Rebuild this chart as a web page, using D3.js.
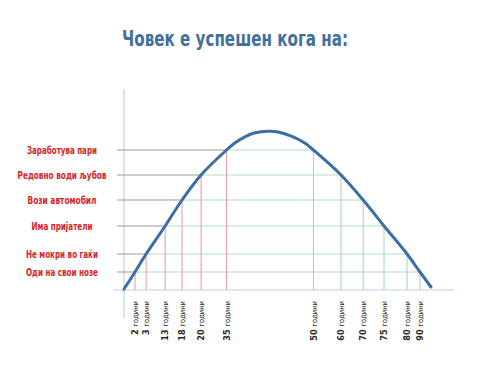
<!DOCTYPE html>
<html><head><meta charset="utf-8">
<script src="https://cdn.jsdelivr.net/npm/d3@7"></script>
<style>body{margin:0;background:#fff}svg{display:block}</style>
</head><body><svg id="c" width="480" height="365"></svg>
<script>
// ---- data ----
const title = "Човек е успешен кога на:";
// curve of "success" over the span of life (x: 0-100 relative span, y: 0-100)
const curveX = [0, 3.6, 7.2, 13.4, 18.9, 25.1, 33.4, 36.2, 39.4, 42.7, 46.9, 50.2, 54.7, 59.0, 61.7, 70.7, 77.9, 84.7, 92.2, 96.4, 100];
const curveY = [0.5, 9, 18, 32, 45, 57.5, 70, 73.6, 76.6, 78.6, 79.4, 79.0, 76.8, 73.4, 70, 57.5, 45, 32, 18, 9, 1.5];
// achievements (y levels)
const levelLabels = ["Заработува пари", "Редовно води љубов", "Вози автомобил", "Има пријатели", "Не мокри во гаќи", "Оди на свои нозе"];
const levelValues = [70, 57.5, 45, 32, 18, 9];
// ages where the curve crosses each level
const risingAges  = [35, 20, 18, 13, 3, 2];   // same order as levels
const fallingAges = [50, 60, 70, 75, 80, 90]; // same order as levels
const ageUnit = "години";

// ---- scales ----
const x = d3.scaleLinear().domain([0, 100]).range([124, 431]);
const y = d3.scaleLinear().domain([0, 100]).range([290, 90]);

const svg = d3.select("#c");
const curvePts = curveX.map((v, i) => [v, curveY[i]]);
const peak = d3.maxIndex(curveY);

function crossX(level, rising) {
  const pts = rising ? curvePts.slice(0, peak + 1) : curvePts.slice(peak);
  for (let i = 0; i < pts.length - 1; i++) {
    const [x0, y0] = pts[i], [x1, y1] = pts[i + 1];
    if ((y0 - level) * (y1 - level) <= 0 && y0 !== y1) {
      return x0 + (level - y0) / (y1 - y0) * (x1 - x0);
    }
  }
  return rising ? 0 : 100;
}

const narrow = "'Liberation Sans Narrow', 'DejaVu Sans Condensed', sans-serif";

// title
svg.append("text").attr("x", 235).attr("y", 46).attr("text-anchor", "middle")
  .attr("font-family", "'DejaVu Sans Condensed', sans-serif").attr("font-weight", "bold")
  .attr("font-size", 21).attr("fill", "#416f9f")
  .attr("textLength", 226).attr("lengthAdjust", "spacingAndGlyphs")
  .text(title);

// axes
svg.append("line").attr("x1", x(0)).attr("x2", x(0)).attr("y1", y(100.5)).attr("y2", y(-14))
  .attr("stroke", "#c3d0de").attr("stroke-width", 1.2);
svg.append("line").attr("x1", x(-3.6)).attr("x2", x(107.5)).attr("y1", y(0)).attr("y2", y(0))
  .attr("stroke", "#bfd0e2").attr("stroke-width", 1.2);

// level lines
const labelWidths = [70, 89, 69, 61, 72, 72];
levelValues.forEach((lv, i) => {
  const xl = crossX(lv, true), xr = crossX(lv, false);
  svg.append("line").attr("x1", x(-2.3)).attr("x2", x(xl)).attr("y1", y(lv)).attr("y2", y(lv))
    .attr("stroke", "#979d8f").attr("stroke-width", 1);
  svg.append("line").attr("x1", x(xl)).attr("x2", x(xr)).attr("y1", y(lv)).attr("y2", y(lv))
    .attr("stroke", "#b3dcc4").attr("stroke-width", 1);
  svg.append("text").attr("x", 62).attr("y", y(lv)).attr("dy", "0.36em")
    .attr("text-anchor", "middle").attr("font-family", narrow)
    .attr("font-weight", "bold").attr("font-size", 10.5).attr("fill", "#d8232a")
    .attr("textLength", labelWidths[i]).attr("lengthAdjust", "spacingAndGlyphs")
    .text(levelLabels[i]);
});

// vertical markers + labels
function marker(age, lv, rising) {
  const xv = crossX(lv, rising);
  svg.append("line").attr("x1", x(xv)).attr("x2", x(xv)).attr("y1", y(0)).attr("y2", y(lv))
    .attr("stroke", rising ? "#eb97a0" : "#9fd2c4").attr("stroke-width", 1);
  const t = svg.append("text")
    .attr("transform", `translate(${x(xv) + 3.2},301) rotate(-90)`)
    .attr("text-anchor", "end").attr("font-family", narrow)
    .attr("fill", "#2a2a2a");
  t.append("tspan").attr("font-weight", "bold").attr("font-size", 9).text(age + " ");
  t.append("tspan").attr("font-size", 7.5).text(ageUnit);
}
levelValues.forEach((lv, i) => {
  marker(risingAges[i], lv, true);
  marker(fallingAges[i], lv, false);
});

// curve
svg.append("path").datum(curvePts)
  .attr("d", d3.line().x(d => x(d[0])).y(d => y(d[1])).curve(d3.curveCatmullRom.alpha(0.5)))
  .attr("fill", "none").attr("stroke", "#3b6ea6").attr("stroke-width", 3)
  .attr("stroke-linecap", "round");
</script></body></html>
